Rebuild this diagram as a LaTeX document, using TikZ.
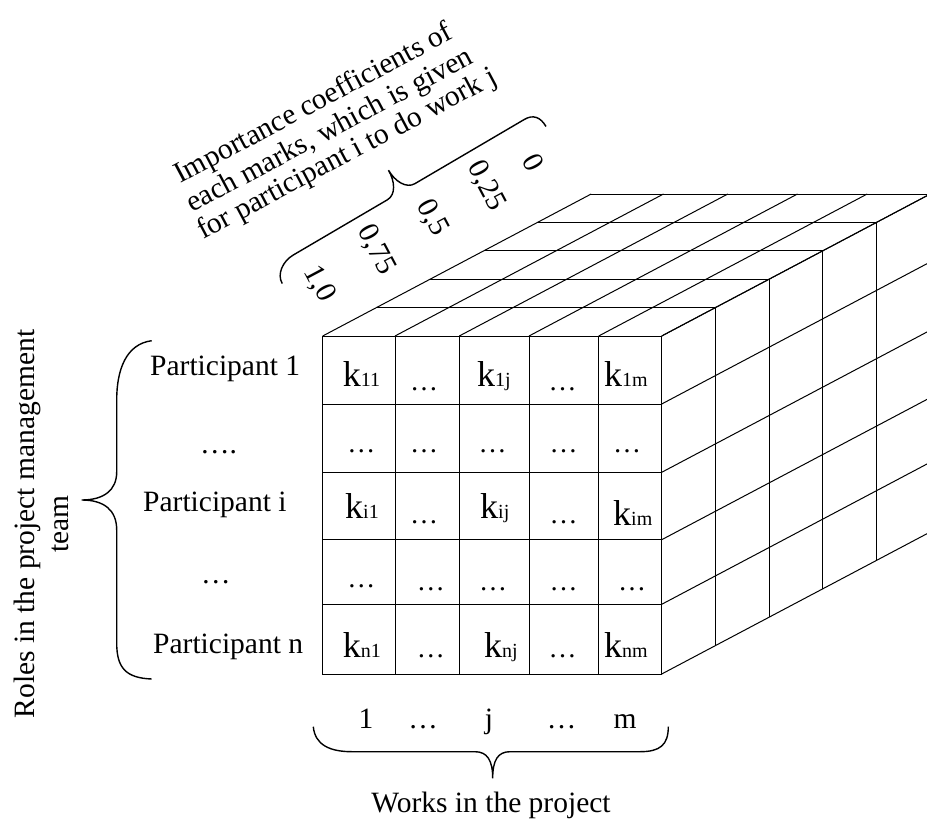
\documentclass[tikz,border=0pt]{standalone}
\usepackage{fontspec}
\setmainfont{Liberation Serif}
\newcommand{\cellk}[1]{{\fontsize{36}{36}\selectfont k}{\fontsize{20}{20}\selectfont #1}}
\begin{document}
\begin{tikzpicture}[x=1pt,y=-1pt,
  gridline/.style={line width=1pt},
  bracepath/.style={line width=1.4pt},
  lab/.style={inner sep=0pt,font=\fontsize{29.5}{32}\selectfont},
  cdots/.style={inner sep=0pt,anchor=base,font=\fontsize{28}{30}\selectfont},
  kcell/.style={inner sep=0pt,anchor=base west}]
\useasboundingbox (0,0) rectangle (927,819);
\def\dx{53.7}
\def\dy{-28.4}
% ---------- cube ----------
\begin{scope}
\clip (0,0) rectangle (927,819);
\draw[gridline] (322.7,336) rectangle (661.7,674);
\foreach \x in {395,459.3,529,598.7}
  \draw[gridline] (\x,336) -- (\x,674);
\foreach \y in {404,472.3,539.7,604.3}
  \draw[gridline] (322.7,\y) -- (661.7,\y);
% top face
\foreach \x in {322.7,395,459.3,529,598.7,661.7}
  \draw[gridline] (\x,336) -- ++({5*\dx},{5*\dy});
\foreach \k in {1,...,5}
  \draw[gridline] ({322.7+\k*\dx},{336+\k*\dy}) -- ({661.7+\k*\dx},{336+\k*\dy});
% right face
\foreach \y in {336,404,472.3,539.7,604.3,674}
  \draw[gridline] (661.7,\y) -- ++({5*\dx},{5*\dy});
\foreach \k in {1,...,5}
  \draw[gridline] ({661.7+\k*\dx},{336+\k*\dy}) -- ({661.7+\k*\dx},{674+\k*\dy});
\end{scope}
% ---------- cell contents ----------
\node[kcell] (k11) at (342.7,386) {\cellk{11}};
\node[kcell] (k1j) at (477,386) {\cellk{1j}};
\node[kcell] (k1m) at (604,386) {\cellk{1m}};
\node[kcell] (ki1) at (345,518.3) {\cellk{i1}};
\node[kcell] (kij) at (480,518.3) {\cellk{ij}};
\node[kcell] (kim) at (613,525.7) {\cellk{im}};
\node[kcell] (kn1) at (342.7,657.3) {\cellk{n1}};
\node[kcell] (knj) at (484,657.3) {\cellk{nj}};
\node[kcell] (knm) at (604,657.3) {\cellk{nm}};
\node[cdots] (d12) at (424,390.3) {…};
\node[cdots] (d14) at (562.5,390.3) {…};
\node[cdots] (d21) at (361.3,452) {…};
\node[cdots] (d22) at (424,452) {…};
\node[cdots] (d23) at (492.7,452) {…};
\node[cdots] (d24) at (563.5,452) {…};
\node[cdots] (d25) at (627,452) {…};
\node[cdots] (d32) at (424,523.7) {…};
\node[cdots] (d34) at (563.5,523.7) {…};
\node[cdots] (d41) at (361.3,587) {…};
\node[cdots] (d42) at (430.8,590.3) {…};
\node[cdots] (d43) at (493,590.3) {…};
\node[cdots] (d44) at (563.5,590.3) {…};
\node[cdots] (d45) at (632,590.3) {…};
\node[cdots] (d52) at (430.8,657) {…};
\node[cdots] (d54) at (562.5,657) {…};
% ---------- left labels ----------
\node[lab,anchor=base west] (p1) at (150,375) {Participant 1};
\node[lab,anchor=base west] (pd1) at (200,453.5) {….};
\node[lab,anchor=base west] (pi) at (143,511.7) {Participant i};
\node[lab,anchor=base west] (pd2) at (201,583.5) {…};
\node[lab,anchor=base west] (pn) at (153,653.3) {Participant n};
\draw[bracepath] (151.7,340.7) .. controls (126,344) and (116.7,370) .. (116.7,400)
  -- (116.7,472) .. controls (116.7,490) and (104,500) .. (81.7,500)
  .. controls (104,500) and (116.7,510) .. (116.7,530)
  -- (116.7,643) .. controls (116.7,668) and (126,678) .. (151.7,679);
\node[lab,rotate=90,anchor=base] (roles1) at (34.5,524) {Roles in the project management};
\node[lab,rotate=90,anchor=base] (roles2) at (68,524) {team};
% ---------- bottom labels ----------
\node[lab,anchor=base] (w1) at (366,728) {1};
\node[lab,anchor=base] (wd1) at (423,728) {…};
\node[lab,anchor=base] (wj) at (489,728) {j};
\node[lab,anchor=base] (wd2) at (561.7,728) {…};
\node[lab,anchor=base] (wm) at (625,728) {m};
\draw[bracepath] (313.3,726.7) .. controls (315,745) and (330,751.7) .. (352,751.7)
  -- (475,751.7) .. controls (487,751.7) and (492.7,760) .. (492.7,778.3)
  .. controls (492.7,760) and (498,751.7) .. (510,751.7)
  -- (640,751.7) .. controls (660,751.7) and (668.3,745) .. (668.3,726.7);
\node[lab,anchor=base] (works) at (491,812) {Works in the project};
% ---------- top labels ----------
\node[lab,rotate=28,anchor=base west] (imp1) at (180,184) {Importance coefficients of};
\node[lab,rotate=28,anchor=base west] (imp2) at (192,213) {each marks, which is given};
\node[lab,rotate=28,anchor=base west] (imp3) at (203,240) {for participant i to do work j};
\begin{scope}[shift={(293.3,255)},rotate=30.4]
\draw[bracepath] (-24,19) .. controls (-24,8) and (-12,0) .. (0,0)
  -- (109,0) .. controls (119,0) and (125,-12) .. (125,-25)
  .. controls (125,-12) and (131,0) .. (141,0)
  -- (268,0) .. controls (278,0) and (283,6) .. (283,17);
\end{scope}
\node[lab,rotate=-62] (c0) at (533,162) {0};
\node[lab,rotate=-62] (c25) at (486,186) {0,25};
\node[lab,rotate=-62] (c5) at (432,218) {0,5};
\node[lab,rotate=-62] (c75) at (376,250) {0,75};
\node[lab,rotate=-62] (c10) at (319,284) {1,0};
\end{tikzpicture}
\end{document}
